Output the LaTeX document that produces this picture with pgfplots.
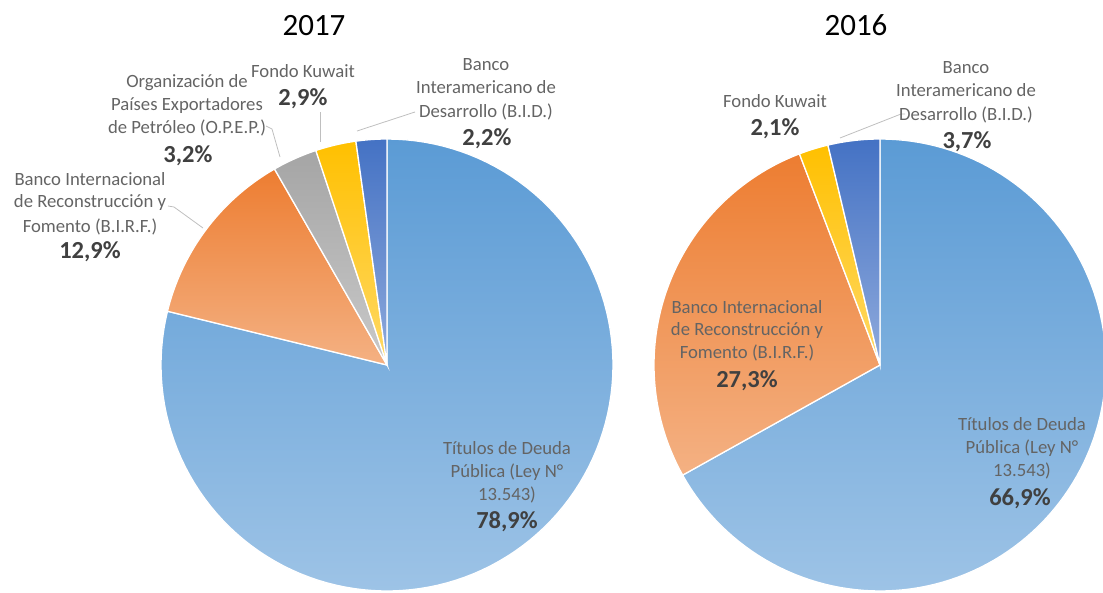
\documentclass[border=0pt]{standalone}
\usepackage{fontspec}
\setmainfont{Carlito}
\usepackage{pgfplots}
\usepackage{pgfplotstable}
\pgfplotsset{compat=1.18}
\usepgfplotslibrary{polar}

\definecolor{blueT}{RGB}{91,155,213}
\definecolor{blueB}{RGB}{157,195,230}
\definecolor{orT}{RGB}{237,125,49}
\definecolor{orB}{RGB}{244,177,131}
\definecolor{grT}{RGB}{165,165,165}
\definecolor{grB}{RGB}{201,201,201}
\definecolor{yeT}{RGB}{255,192,0}
\definecolor{yeB}{RGB}{255,217,102}
\definecolor{dbT}{RGB}{68,114,196}
\definecolor{dbB}{RGB}{143,170,220}
\definecolor{labelgray}{RGB}{100,100,100}
\definecolor{pctgray}{RGB}{64,64,64}
\definecolor{leader}{RGB}{191,191,191}

% 2017
\pgfplotstableread{
item value col
Titulos 78.9 blue
BIRF 12.9 or
OPEP 3.2 gr
Kuwait 2.9 ye
BID 2.2 db
}\dataA
% 2016
\pgfplotstableread{
item value col
Titulos 66.9 blue
BIRF 27.3 or
Kuwait 2.1 ye
BID 3.7 db
}\dataB

\newcommand\buildpie[2]{%
  \pgfplotstablegetrowsof{#1}\pgfmathtruncatemacro\lastrow{\pgfplotsretval-1}%
  \gdef\pietotal{0}%
  \foreach \r in {0,...,\lastrow}{%
    \pgfplotstablegetelem{\r}{value}\of#1%
    \pgfmathsetmacro\ptmp{\pietotal+\pgfplotsretval}\xdef\pietotal{\ptmp}}%
  \gdef\piecum{0}%
  \gdef#2{}%
  \foreach \r in {0,...,\lastrow}{%
    \pgfplotstablegetelem{\r}{value}\of#1\let\pval\pgfplotsretval
    \pgfplotstablegetelem{\r}{col}\of#1\let\pcol\pgfplotsretval
    \pgfmathsetmacro\sa{90-(\piecum/\pietotal)*360}%
    \pgfmathsetmacro\newcum{\piecum+\pval}%
    \pgfmathsetmacro\ea{90-(\newcum/\pietotal)*360}%
    \xdef\piecum{\newcum}%
    \xdef#2{\unexpanded\expandafter{#2}\noexpand\addplot[draw=white, line width=1.3pt, top color=\pcol T, bottom color=\pcol B, domain=\ea:\sa, samples=120] {1} -- (axis cs:0,0) -- cycle;}%
  }%
}
\buildpie{\dataA}{\pieA}
\buildpie{\dataB}{\pieB}

\tikzset{
  lbl/.style={anchor=base, inner sep=0pt, font=\fontsize{18.7}{22}\selectfont, text=labelgray},
  pct/.style={anchor=base, inner sep=0pt, font=\fontsize{24.5}{28}\selectfont\bfseries, text=pctgray},
  ttl/.style={anchor=base, inner sep=0pt, font=\fontsize{31}{38}\selectfont, text=black},
}

\begin{document}
\begin{tikzpicture}
\useasboundingbox (0,0) rectangle (1103pt,592pt);
\begin{polaraxis}[at={(387pt,227pt)}, anchor=center, width=452pt, height=452pt,
  scale only axis, hide axis, xmin=0, xmax=360, ymin=0, ymax=1, clip=false]
\pieA
\end{polaraxis}
\begin{polaraxis}[at={(880pt,227pt)}, anchor=center, width=452pt, height=452pt,
  scale only axis, hide axis, xmin=0, xmax=360, ymin=0, ymax=1, clip=false]
\pieB
\end{polaraxis}
\begin{axis}[at={(0pt,0pt)}, anchor=south west, width=1103pt, height=592pt,
  scale only axis, hide axis, xmin=0, xmax=1103, ymin=0, ymax=592, y dir=reverse, clip=false]
% titles
\node[ttl] at (axis cs:314,35) {2017};
\node[ttl] at (axis cs:856,35) {2016};
% leader lines 2017
\draw[leader, line width=0.8pt] (axis cs:415,112) -- (axis cs:357,131);
\draw[leader, line width=0.8pt] (axis cs:320,112) -- (axis cs:320,142);
\draw[leader, line width=0.8pt] (axis cs:266,126) -- (axis cs:272,129) -- (axis cs:280,157);
\draw[leader, line width=0.8pt] (axis cs:168,206) -- (axis cs:174,207) -- (axis cs:203,228);
% leader 2016
\draw[leader, line width=0.8pt] (axis cs:905,114) -- (axis cs:901,114) -- (axis cs:840,138);
% 2017 labels
\node[lbl] at (axis cs:486,70) {Banco};
\node[lbl] at (axis cs:486,93) {Interamericano de};
\node[lbl] at (axis cs:486,117) {Desarrollo (B.I.D.)};
\node[pct] at (axis cs:487,145) {2,2\%};
\node[lbl] at (axis cs:303,77) {Fondo Kuwait};
\node[pct] at (axis cs:303,105) {2,9\%};
\node[lbl] at (axis cs:187,87) {Organización de};
\node[lbl] at (axis cs:187,110) {Países Exportadores};
\node[lbl] at (axis cs:187,133) {de Petróleo (O.P.E.P.)};
\node[pct] at (axis cs:188,162) {3,2\%};
\node[lbl] at (axis cs:90,185) {Banco Internacional};
\node[lbl] at (axis cs:90,207) {de Reconstrucción y};
\node[lbl] at (axis cs:90,232) {Fomento (B.I.R.F.)};
\node[pct] at (axis cs:90,258) {12,9\%};
\node[lbl] at (axis cs:507,454) {Títulos de Deuda};
\node[lbl] at (axis cs:507,477) {Pública (Ley N°};
\node[lbl] at (axis cs:507,500) {13.543)};
\node[pct] at (axis cs:507,528) {78,9\%};
% 2016 labels
\node[lbl] at (axis cs:966,73) {Banco};
\node[lbl] at (axis cs:966,96) {Interamericano de};
\node[lbl] at (axis cs:966,120) {Desarrollo (B.I.D.)};
\node[pct] at (axis cs:967,148) {3,7\%};
\node[lbl] at (axis cs:775,107) {Fondo Kuwait};
\node[pct] at (axis cs:775,135) {2,1\%};
\node[lbl] at (axis cs:747,313) {Banco Internacional};
\node[lbl] at (axis cs:747,335) {de Reconstrucción y};
\node[lbl] at (axis cs:747,358) {Fomento (B.I.R.F.)};
\node[pct] at (axis cs:747,387) {27,3\%};
\node[lbl] at (axis cs:1022,430) {Títulos de Deuda};
\node[lbl] at (axis cs:1022,453) {Pública (Ley N°};
\node[lbl] at (axis cs:1022,476) {13.543)};
\node[pct] at (axis cs:1020,505) {66,9\%};
\end{axis}
\end{tikzpicture}
\end{document}
